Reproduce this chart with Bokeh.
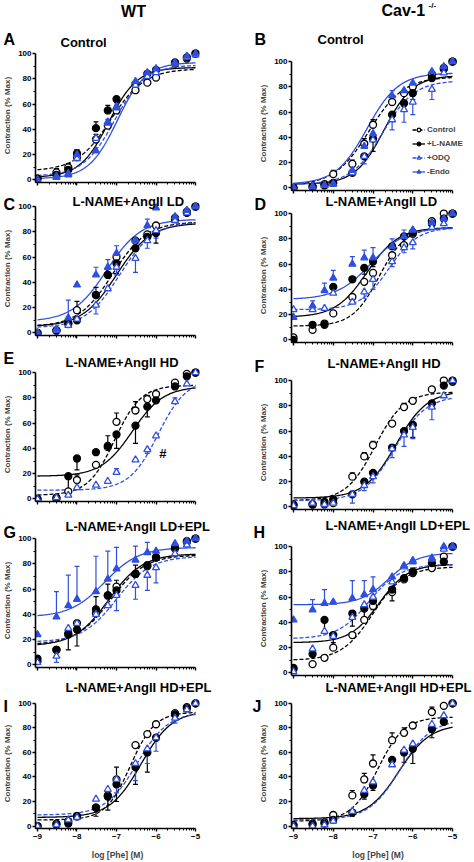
import numpy as np
from bokeh.plotting import figure
from bokeh.models import FixedTicker, Label, Legend, LegendItem, Range1d, GridBox
from bokeh.layouts import row, column
from bokeh.embed import file_html
from bokeh.resources import INLINE

FONT = "Liberation Sans"
BLUE = "#2f4fe0"

# log [Phe] (M) doses
log_phe = [-9, -8.52, -8.22, -8, -7.52, -7.22, -7, -6.52, -6.22, -6, -5.52, -5.22, -5]
x_major = [-9, -8, -7, -6, -5]
y_major = [0, 20, 40, 60, 80, 100]

# ---- Panel A : WT Control
A_ctrl = [1, 6, 10, 18, 32, 43, 55, 71, 77, 81, 92, 96, 100]
A_ctrl_err = [0, 3, 3, 0, 4, 0, 4, 0, 0, 0, 0, 0, 0]
A_lname = [1, 4, 8, 21, 41, 55, 64, 76, 84, 87, 93, 97, 100]
A_lname_err = [0, 0, 0, 3, 5, 4, 0, 0, 0, 0, 0, 0, 0]
A_odq = [0, 3, 5, 17, 33, 46, 58, 75, 82, 85, 92, 97, 99]
A_odq_err = [0, 0, 0, 0, 0, 0, 3, 3, 3, 2, 0, 0, 0]
A_endo = [0, 2, 4, 20, 23, 45, 57, 78, 85, 88, 93, 98, 100]
A_endo_err = [0, 0, 3, 4, 0, 3, 0, 0, 0, 0, 0, 0, 0]
# fits: bottom, top, logEC50, hill slope
A_ctrl_fit = [7, 88, -7.15, 1.0]
A_lname_fit = [2, 89, -7.2, 1.2]
A_odq_fit = [3, 91, -7.05, 1.1]
A_endo_fit = [1, 93, -6.98, 1.2]

# ---- Panel B : Cav-1 Control
B_ctrl = [0, 1, 3, 11, 19, 35, 50, 68, 75, 80, 90, 94, 100]
B_ctrl_err = [0, 2, 0, 3, 3, 4, 4, 0, 0, 0, 0, 0, 0]
B_lname = [0, 1, 2, 4, 12, 25, 39, 58, 67, 75, 87, 95, 100]
B_lname_err = [0, 0, 0, 0, 0, 0, -10, 0, 0, -5, 0, 0, 0]
B_odq = [0, 1, 2, 3, 12, 25, 38, 54, 62, 68, 78, 91, 100]
B_odq_err = [0, 0, 0, 0, 0, -6, 0, -8, -10, -10, -8, 0, 0]
B_endo = [0, 1, 2, 3, 14, 33, 43, 73, 77, 83, 92, 96, 100]
B_endo_err = [0, 0, 0, 0, 0, 4, 0, 4, 0, 0, 0, 0, 0]
B_ctrl_fit = [2, 88, -7.1, 1.0]
B_lname_fit = [3, 89, -6.72, 1.2]
B_odq_fit = [3, 85, -6.75, 1.1]
B_endo_fit = [3, 91, -7.15, 1.1]

# ---- Panel C : WT L-NAME+AngII LD
C_ctrl = [0, 2, 8, 18, 30, 46, 60, 73, 78, 85, 91, 96, 100]
C_ctrl_err = [0, 0, 0, 7, 6, 5, 0, 0, 0, 0, 0, 0, 0]
C_lname = [0, 2, 7, 10, 30, 46, 55, 67, 76, 79, 90, 95, 100]
C_lname_err = [0, 0, 0, 0, 0, 0, -8, 0, 0, -8, 0, 0, 0]
C_odq = [0, 2, 6, 11, 22, 35, 52, 59, 73, 81, 89, 95, 100]
C_odq_err = [0, 0, 0, 0, -7, 0, -6, -11, -6, -6, 0, 0, 0]
C_endo = [0, 3, 12, 38, 46, 52, 63, 73, 85, 99, 92, 97, 100]
C_endo_err = [0, 0, 14, 0, 6, 6, 6, 0, 5, 0, 0, 0, 0]
C_ctrl_fit = [5, 88, -7.1, 1.0]
C_lname_fit = [5, 87, -7.0, 1.0]
C_odq_fit = [4, 88, -6.92, 1.0]
C_endo_fit = [9, 90, -7.25, 1.0]

# ---- Panel D : Cav-1 L-NAME+AngII LD
D_ctrl = [2, 8, 13, 21, 34, 46, 53, 67, 75, 84, 94, 100, 100]
D_ctrl_err = [0, 0, 0, 0, 0, 0, 0, 0, 0, 0, 0, 0, 0]
D_lname = [0, 12, 12, 42, 48, 57, 62, 74, 82, 85, 92, 96, 100]
D_lname_err = [0, 0, 0, 0, 0, -5, -4, 0, 0, 0, 0, 0, 0]
D_odq = [24, 24, 25, 37, 30, 38, 48, 62, 73, 77, 89, 92, 100]
D_odq_err = [0, 0, 0, 0, 0, -5, -8, -4, -4, -5, 0, 0, 0]
D_endo = [18, 27, 39, 49, 60, 65, 65, 74, 82, 87, 93, 96, 100]
D_endo_err = [0, 4, 6, 6, 6, 6, 8, 6, 5, 0, 0, 0, 0]
D_ctrl_fit = [11, 89, -6.85, 1.3]
D_lname_fit = [18, 89, -7.15, 1.1]
D_odq_fit = [24, 89, -6.6, 1.2]
D_endo_fit = [32, 89, -7.05, 1.0]

# ---- Panel E : WT L-NAME+AngII HD
E_ctrl = [0, 0, 6, 15, 27, 41, 61, 70, 79, 83, 92, 99, 100]
E_ctrl_err = [0, 0, 0, 4, 0, 0, 7, 7, 3, 0, 0, 0, 0]
E_lname = [0, 1, 18, 32, 37, 42, 51, 58, 73, 78, 89, 97, 100]
E_lname_err = [0, 0, -11, -9, 0, 8, -11, -14, -8, 0, 0, 0, 0]
E_odq = [0, 1, 3, 9, 11, 14, 21, 31, 39, 50, 77, 91, 100]
E_odq_err = [0, 0, 0, 0, 0, 0, 3, 0, -3, 0, 3, 0, 0]
E_ctrl_fit = [3, 90, -7.05, 1.3]
E_lname_fit = [18, 89, -6.6, 1.1]
E_odq_fit = [7, 95, -5.95, 1.2]

# ---- Panel F : Cav-1 L-NAME+AngII HD
F_ctrl = [2, 2, 2, 3, 24, 40, 49, 66, 79, 84, 93, 100, 99]
F_ctrl_err = [0, 0, 0, 0, 3, 3, 3, 0, 3, 0, 0, 0, 0]
F_lname = [1, 2, 4, 6, 10, 20, 27, 47, 60, 65, 82, 96, 100]
F_lname_err = [0, 0, 0, 0, 0, 0, 0, 0, 0, -10, 0, 0, 0]
F_odq = [1, 3, 2, 3, 10, 17, 24, 46, 57, 63, 79, 88, 100]
F_odq_err = [0, 0, 0, 0, -7, -4, -5, -7, -9, -9, -10, 0, 0]
F_ctrl_fit = [5, 91, -6.95, 1.2]
F_lname_fit = [7, 92, -6.42, 1.1]
F_odq_fit = [5, 88, -6.45, 1.1]

# ---- Panel G : WT L-NAME+AngII LD+EPL
G_ctrl = [3, 12, 25, 33, 41, 55, 62, 72, 78, 85, 92, 97, 100]
G_ctrl_err = [0, 0, -13, 0, 0, 0, 0, 0, 0, 0, 0, 0, 0]
G_lname = [5, 12, 24, 28, 44, 55, 59, 72, 79, 85, 93, 98, 100]
G_lname_err = [0, 0, 0, -13, 10, 9, 8, 7, 0, 0, 0, 0, 0]
G_odq = [2, 7, 29, 33, 40, 47, 55, 63, 71, 77, 88, 95, 100]
G_odq_err = [0, -5, 0, 0, 0, 0, -12, -11, -12, -12, 0, 0, 0]
G_endo = [24, 38, 47, 52, 58, 68, 76, 83, 89, 90, 96, 98, 100]
G_endo_err = [0, 20, 24, 26, 28, 22, 17, 11, 8, 0, 0, 0, 0]
G_ctrl_fit = [16, 87, -7.15, 1.0]
G_lname_fit = [15, 88, -7.2, 1.0]
G_odq_fit = [18, 86, -7.0, 1.0]
G_endo_fit = [38, 93, -7.3, 1.0]

# ---- Panel H : Cav-1 L-NAME+AngII LD+EPL
H_ctrl = [3, 7, 12, 20, 30, 42, 53, 64, 74, 79, 83, 92, 100]
H_ctrl_err = [0, 0, 0, 4, 0, 0, 0, -7, 0, 4, 0, 0, 0]
H_lname = [4, 15, 42, 30, 47, 51, 57, 66, 75, 80, 87, 88, 100]
H_lname_err = [0, 0, -9, -8, -10, -10, -7, 0, 0, 0, 0, 0, 0]
H_odq = [1, 19, 33, 29, 44, 54, 60, 72, 84, 88, 91, 98, 100]
H_odq_err = [0, 0, 0, 0, 0, 0, 0, 0, 0, 0, 0, 0, 0]
H_endo = [42, 50, 55, 56, 59, 62, 66, 76, 85, 89, 90, 100, 100]
H_endo_err = [0, 8, 11, 0, 14, 11, 10, 0, 0, 0, 0, 0, 0]
H_ctrl_fit = [10, 84, -7.0, 1.1]
H_lname_fit = [24, 86, -6.85, 1.2]
H_odq_fit = [27, 86, -7.1, 1.1]
H_endo_fit = [54, 95, -6.6, 1.2]

# ---- Panel I : WT L-NAME+AngII HD+EPL
I_ctrl = [0, 2, 4, 8, 15, 25, 38, 66, 75, 83, 92, 97, 100]
I_ctrl_err = [0, 0, 0, 0, 0, 0, 10, 0, 0, 0, 0, 0, 0]
I_lname = [0, 1, 2, 8, 15, 24, 34, 48, 60, 72, 91, 96, 100]
I_lname_err = [0, 0, 0, 0, -7, -11, -14, -14, -16, 0, 0, 0, 0]
I_odq = [0, 1, 5, 7, 22, 30, 38, 51, 63, 72, 88, 95, 100]
I_odq_err = [0, 0, 0, 0, 0, 0, -11, -14, -12, -11, -4, 0, 0]
I_ctrl_fit = [5, 93, -6.65, 1.4]
I_lname_fit = [7, 94, -6.38, 1.1]
I_odq_fit = [9, 93, -6.48, 1.1]

# ---- Panel J : Cav-1 L-NAME+AngII HD+EPL
J_ctrl = [1, 2, 3, 9, 25, 38, 51, 70, 76, 82, 93, 98, 100]
J_ctrl_err = [0, 0, 0, 0, 4, 5, 7, 6, 4, 0, 4, 0, 0]
J_lname = [0, 1, 2, 5, 11, 26, 33, 54, 60, 63, 79, 85, 100]
J_lname_err = [0, 0, 0, 0, -3, -4, -4, 0, -8, -12, -7, 0, 0]
J_odq = [0, 0, 1, 4, 12, 29, 36, 50, 62, 67, 83, 90, 100]
J_odq_err = [0, 0, 0, 0, 0, 0, 0, 0, 0, 0, 0, 0, 0]
J_ctrl_fit = [4, 89, -6.88, 1.3]
J_lname_fit = [6, 83, -6.35, 1.1]
J_odq_fit = [5, 87, -6.32, 1.1]

series_labels = {"ctrl": "Control", "lname": "+L-NAME", "odq": "+ODQ", "endo": "-Endo"}
STYLE = {
    "ctrl": dict(marker="circle", color="black", fill="white", dash="4 2"),
    "lname": dict(marker="circle", color="black", fill="black", dash="solid"),
    "odq": dict(marker="triangle", color=BLUE, fill="white", dash="4 2"),
    "endo": dict(marker="triangle", color=BLUE, fill=BLUE, dash="solid"),
}

g = globals()


def series_for(key, names):
    return {n: (g[f"{key}_{n}"], g[f"{key}_{n}_err"], g[f"{key}_{n}_fit"]) for n in names}


FOUR = ["ctrl", "lname", "odq", "endo"]
THREE = ["ctrl", "lname", "odq"]

# key, title, series, side, top border, bottom border, letter (page x,y), title (page x,y)
PANELS = [
    ("A", "Control", FOUR, "L", 48, 6, (3, 39), (60, 41.5)),
    ("C", "L-NAME+AngII LD", FOUR, "L", 13, 6, (3, 204), (72, 201)),
    ("E", "L-NAME+AngII HD", THREE, "L", 26, 6, (3, 358), (65, 362)),
    ("G", "L-NAME+AngII LD+EPL", FOUR, "L", 26, 13, (3, 532), (65, 526)),
    ("I", "L-NAME+AngII HD+EPL", THREE, "L", 18, 30, (3, 706), (65, 687)),
    ("B", "Control", FOUR, "R", 56, 6, (254, 39), (317, 38.5)),
    ("D", "L-NAME+AngII LD", FOUR, "R", 12, 6, (254, 204), (325, 201)),
    ("F", "L-NAME+AngII HD", THREE, "R", 27, 6, (254, 366), (327, 363)),
    ("H", "L-NAME+AngII LD+EPL", FOUR, "R", 26, 5, (253, 532), (325, 525)),
    ("J", "L-NAME+AngII HD+EPL", THREE, "R", 18, 30, (252, 706), (325, 687)),
]

minor_x = [float(np.log10(k) + d) for d in (-9, -8, -7, -6) for k in range(2, 10)]
curve_x = np.linspace(-9, -5, 161)


def hill(x, fit):
    bottom, top, logec, slope = fit
    return bottom + (top - bottom) / (1 + 10 ** ((logec - x) * slope))


def txt(p, text, x, y, size, align="left"):
    p.add_layout(Label(x=x, y=y, text=text,
                       text_font=FONT, text_font_style="bold", text_font_size=size,
                       text_align=align, text_baseline="middle", text_color="black"))


def make_panel(key, title, names, side, tb, bb):
    left = side == "L"
    FH = 134
    p = figure(width=237, height=tb + FH + bb,
               x_range=Range1d(-9.05, -4.9 if left else -4.7), y_range=Range1d(-2, 104),
               min_border_left=33 if left else 54, min_border_right=38 if left else 10,
               min_border_top=tb, min_border_bottom=bb,
               output_backend="svg", toolbar_location=None)
    p.outline_line_color = None
    p.xgrid.visible = False
    p.ygrid.visible = False
    p.background_fill_color = "white"
    p.border_fill_color = "white"

    ya = p.yaxis[0]
    ya.ticker = FixedTicker(ticks=y_major, minor_ticks=[10, 30, 50, 70, 90])
    ya.bounds = (-2, 100)
    ya.axis_label = "Contraction (% Max)"
    ya.axis_label_text_font = FONT
    ya.axis_label_text_font_style = "bold"
    ya.axis_label_text_font_size = "8px"
    ya.axis_label_standoff = 3
    ya.major_label_text_font = FONT
    ya.major_label_text_font_style = "bold"
    ya.major_label_text_font_size = "8px"
    ya.major_label_standoff = 1

    xa = p.xaxis[0]
    xa.ticker = FixedTicker(ticks=x_major, minor_ticks=minor_x)
    xa.bounds = (-9.05, -5)
    if key in ("I", "J"):
        xa.axis_label = "log [Phe] (M)"
        xa.axis_label_text_font = FONT
        xa.axis_label_text_font_style = "bold"
        xa.axis_label_text_font_size = "8.5px"
        xa.axis_label_standoff = 8
        xa.major_label_text_font = FONT
        xa.major_label_text_font_style = "bold"
        xa.major_label_text_font_size = "8px"
        xa.major_label_standoff = 2
    else:
        xa.major_label_overrides = {t: "" for t in x_major}
        xa.major_label_text_font_size = "1px"
        xa.major_label_standoff = 0

    for ax in (xa, ya):
        ax.axis_line_width = 1.6
        ax.major_tick_line_width = 1.4
        ax.minor_tick_line_width = 1
        ax.major_tick_out = 3
        ax.major_tick_in = 0
        ax.minor_tick_out = 2
        ax.minor_tick_in = 0
        ax.axis_line_color = "black"
        ax.major_tick_line_color = "black"
        ax.minor_tick_line_color = "black"
        ax.major_label_text_color = "black"

    data = series_for(key, names)
    line_rs = {}
    for n in names:
        ys, errs, fit = data[n]
        st = STYLE[n]
        line_rs[n] = p.line(curve_x, hill(curve_x, fit), line_color=st["color"],
                            line_width=1.3, line_dash=st["dash"])
    for n in names:
        ys, errs, fit = data[n]
        st = STYLE[n]
        x0 = [x for x, e in zip(log_phe, errs) if e != 0]
        y0 = [y for y, e in zip(ys, errs) if e != 0]
        y1 = [y + e for y, e in zip(ys, errs) if e != 0]
        if x0:
            p.segment(x0, y0, x0, y1, line_color=st["color"], line_width=1.2)
            p.scatter(x0, y1, marker="dash", size=5, line_color=st["color"], line_width=1.2)
    sc_rs = {}
    for n in names:
        ys, errs, fit = data[n]
        st = STYLE[n]
        sc_rs[n] = p.scatter(log_phe, ys, marker=st["marker"], size=7,
                             line_color=st["color"], fill_color=st["fill"], line_width=1.3)

    if key == "B":
        items = [LegendItem(label=series_labels[n], renderers=[line_rs[n], sc_rs[n]]) for n in names]
        leg = Legend(items=items, location=(121, 14), orientation="vertical",
                     glyph_width=13, glyph_height=9, label_height=9, spacing=5,
                     padding=0, margin=0, label_standoff=2,
                     border_line_color=None, background_fill_alpha=0,
                     label_text_font=FONT, label_text_font_style="bold",
                     label_text_font_size="8px")
        p.add_layout(leg)
    if key == "E":
        txt(p, "#", -5.83, 36, "13px", align="center")
    return p


figs = {spec[0]: make_panel(*spec[:6]) for spec in PANELS}
panels_layout = row(column(*[figs[k] for k in "ACEGI"]), column(*[figs[k] for k in "BDFHJ"]))

# transparent text layer in page pixel coordinates for headers, letters and panel titles
overlay = figure(width=474, height=862, x_range=Range1d(0, 474), y_range=Range1d(862, 0),
                 x_axis_type=None, y_axis_type=None, min_border=0,
                 output_backend="svg", toolbar_location=None)
overlay.outline_line_color = None
overlay.xgrid.visible = False
overlay.ygrid.visible = False
overlay.background_fill_alpha = 0
overlay.border_fill_alpha = 0
overlay.background_fill_color = None
overlay.border_fill_color = None

txt(overlay, "WT", 133, 11, "16px", align="center")
txt(overlay, "Cav-1", 381, 10, "16px")
txt(overlay, "-/-", 428, 5, "8px")
for key, title, names, side, tb, bb, lpos, tpos in PANELS:
    txt(overlay, key, lpos[0], lpos[1], "16px")
    txt(overlay, title, tpos[0], tpos[1], "13px")

root = GridBox(children=[(panels_layout, 0, 0), (overlay, 0, 0)])

open("out.html", "w").write(file_html(root, INLINE))
